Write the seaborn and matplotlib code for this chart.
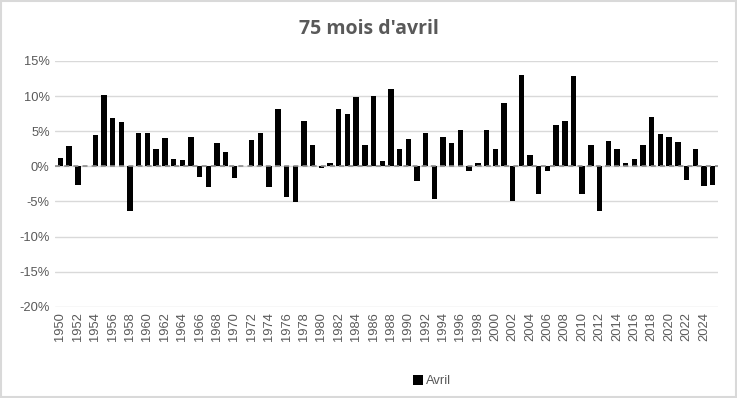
import matplotlib
matplotlib.use("Agg")
import matplotlib.pyplot as plt
import seaborn as sns
import pandas as pd

# April monthly returns (%), 1950-2025
years = list(range(1950, 2026))
avril = [
    1.2, 2.9, -2.6, 0.0, 4.5, 10.2, 6.9, 6.3, -6.3, 4.7,
    4.7, 2.4, 4.0, 1.0, 0.9, 4.2, -1.5, -2.9, 3.3, 2.0,
    -1.6, 0.0, 3.7, 4.7, -2.9, 8.2, -4.4, -5.1, 6.4, 3.0,
    -0.3, 0.5, 8.1, 7.4, 9.8, 3.1, 10.0, 0.8, 11.0, 2.4,
    3.9, -2.1, 4.7, -4.6, 4.2, 3.3, 5.2, -0.7, 0.4, 5.2,
    2.4, 9.0, -4.9, 13.0, 1.6, -4.0, -0.7, 5.9, 6.4, 12.8,
    -4.0, 3.1, -6.3, 3.6, 2.4, 0.5, 1.1, 3.0, 7.0, 4.6,
    4.1, 3.5, -2.0, 2.5, -2.8, -2.6,
]
yticks = [15, 10, 5, 0, -5, -10, -15, -20]
title = "75 mois d'avril"
serie = "Avril"

df = pd.DataFrame({"annee": [str(y) for y in years], "valeur": avril})

sns.set_style("white")
plt.rcParams["font.family"] = ["Liberation Sans", "DejaVu Sans"]

fig = plt.figure(figsize=(7.37, 3.98), dpi=100)
ax = fig.add_axes([0.075, 0.229, 0.899, 0.618])

sns.barplot(data=df, x="annee", y="valeur", color="black", saturation=1,
            width=0.62, ax=ax, label=serie, zorder=2, linewidth=0)

ax.set_ylim(-20, 15)
ax.set_yticks(yticks)
ax.set_yticklabels([f"{t}%" for t in yticks])
ax.yaxis.grid(True, color="#d9d9d9", linewidth=1, zorder=0)
ax.axhline(0, color="#8c8c8c", linewidth=1.2, linestyle=(0, (3, 2.5)), zorder=3)

ax.set_xlim(-0.6, len(years) - 0.4)
ax.set_xticks(range(0, len(years), 2))
ax.set_xticklabels([str(y) for y in years[::2]], rotation=90)

ax.tick_params(axis="both", length=0, labelsize=9.3, labelcolor="#595959", pad=4)
ax.set_xlabel("")
ax.set_ylabel("")
for s in ax.spines.values():
    s.set_visible(False)

ax.legend(loc="center", bbox_to_anchor=(0.586, 0.043), bbox_transform=fig.transFigure,
          frameon=False, fontsize=9.3, labelcolor="#595959", handlelength=0.8,
          handleheight=0.8, handletextpad=0.2)

fig.text(0.5, 0.928, title, ha="center", va="center", fontsize=14,
         fontweight="bold", color="#595959", family=["Open Sans", "DejaVu Sans"])

fig.patches.append(plt.Rectangle((0.002, 0.003), 0.996, 0.994, transform=fig.transFigure,
                                 fill=False, edgecolor="#d9d9d9", linewidth=1.5))

fig.savefig("out.png", dpi=100)
